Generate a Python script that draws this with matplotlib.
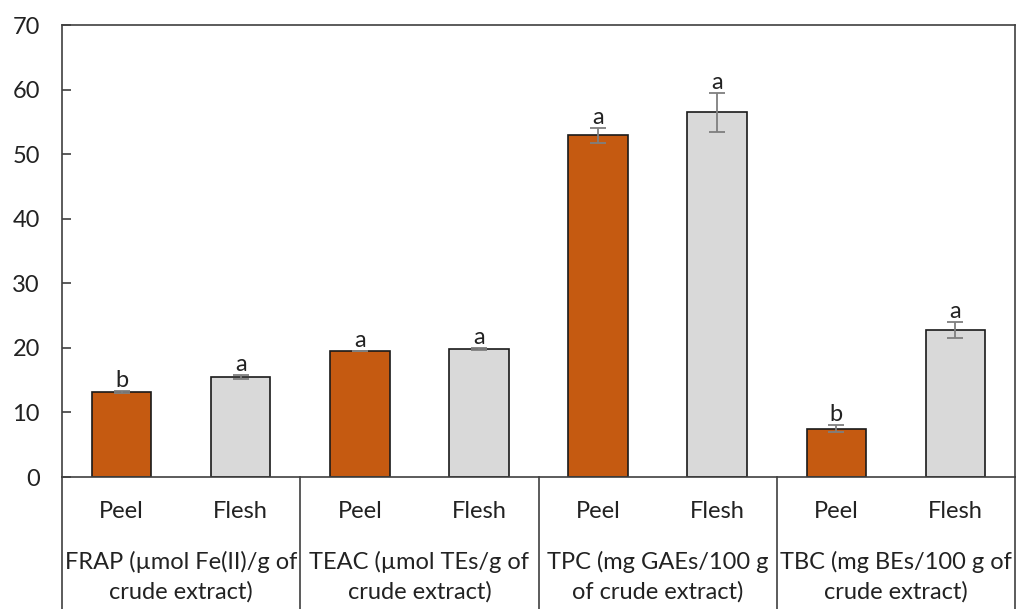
import matplotlib
matplotlib.use("Agg")
import matplotlib.pyplot as plt
import numpy as np

groups = ["FRAP (µmol Fe(II)/g of\ncrude extract)",
          "TEAC (µmol TEs/g of\ncrude extract)",
          "TPC (mg GAEs/100 g\nof crude extract)",
          "TBC (mg BEs/100 g of\ncrude extract)"]
samples = ["Peel", "Flesh"]
peel_vals = [13.2, 19.5, 52.9, 7.5]
flesh_vals = [15.5, 19.8, 56.5, 22.8]
peel_err = [0.15, 0.05, 1.2, 0.5]
flesh_err = [0.35, 0.2, 3.0, 1.2]
peel_letters = ["b", "a", "a", "b"]
flesh_letters = ["a", "a", "a", "a"]
yticks = [0, 10, 20, 30, 40, 50, 60, 70]

plt.rcParams['font.family'] = ['Lato', 'DejaVu Sans']
txt = '#222222'
fs = 17

W, H = 1016, 609
fig = plt.figure(figsize=(W/100, H/100), dpi=100)
ax = fig.add_axes([62/W, (H-477)/H, (1015-62)/W, 452/H])

n = len(groups)
peel_x = np.arange(n)*2
flesh_x = peel_x + 1
bw = 0.5
ax.bar(peel_x, peel_vals, bw, color='#C55A11', edgecolor='#1a1a1a', linewidth=1.2, zorder=2)
ax.bar(flesh_x, flesh_vals, bw, color='#D9D9D9', edgecolor='#1a1a1a', linewidth=1.2, zorder=2)
ax.errorbar(peel_x, peel_vals, yerr=peel_err, fmt='none', ecolor='#7f7f7f', elinewidth=1.3, capsize=6, capthick=1.3, zorder=3)
ax.errorbar(flesh_x, flesh_vals, yerr=flesh_err, fmt='none', ecolor='#7f7f7f', elinewidth=1.3, capsize=6, capthick=1.3, zorder=3)

for xs, vs, es, ls in [(peel_x, peel_vals, peel_err, peel_letters), (flesh_x, flesh_vals, flesh_err, flesh_letters)]:
    for x, v, e, l in zip(xs, vs, es, ls):
        ax.annotate(l, (x, v+e), xytext=(0, 0), textcoords='offset points', ha='center', va='bottom', fontsize=fs, color=txt)

ax.set_xlim(-0.5, 2*n-0.5)
ax.set_ylim(0, 70)
ax.set_yticks(yticks)
ax.set_xticks([])
ax.tick_params(axis='y', direction='in', length=6.5, width=1.2, color='#404040', labelsize=fs, labelcolor=txt, pad=16)
for s in ax.spines.values():
    s.set_color('#404040')
    s.set_linewidth(1.2)

tr = ax.get_xaxis_transform()
for b in np.arange(n+1)*2 - 0.5:
    ax.plot([b, b], [0, -0.3], transform=tr, color='#404040', lw=1.2, clip_on=False)
for i in range(n):
    ax.text(peel_x[i], -0.077, samples[0], transform=tr, ha='center', va='center', fontsize=fs, color=txt)
    ax.text(flesh_x[i], -0.077, samples[1], transform=tr, ha='center', va='center', fontsize=fs, color=txt)
    l1, l2 = groups[i].split("\n")
    ax.text(peel_x[i]+0.5, -0.188, l1, transform=tr, ha='center', va='center', fontsize=fs, color=txt)
    ax.text(peel_x[i]+0.5, -0.254, l2, transform=tr, ha='center', va='center', fontsize=fs, color=txt)

fig.savefig('out.png', dpi=100)
